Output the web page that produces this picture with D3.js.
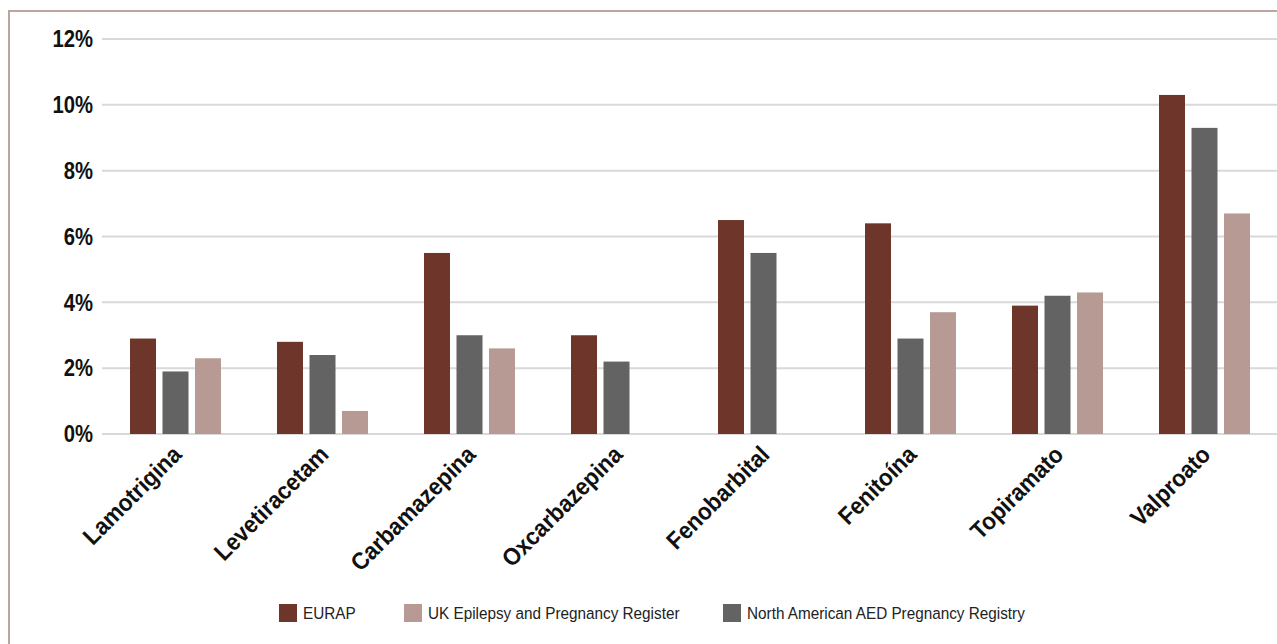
<!DOCTYPE html>
<html>
<head>
<meta charset="utf-8">
<script src="https://cdn.jsdelivr.net/npm/d3@7"></script>
<style>
  body { margin: 0; background: #fff; }
  svg text { font-family: "Liberation Sans Narrow", "Arial Narrow", "Liberation Sans", sans-serif; }
</style>
</head>
<body>
<div id="chart"></div>
<script>
const categories = ["Lamotrigina", "Levetiracetam", "Carbamazepina", "Oxcarbazepina",
    "Fenobarbital", "Fenitoína", "Topiramato", "Valproato"];
const series = ["EURAP", "North American AED Pregnancy Registry", "UK Epilepsy and Pregnancy Register"];
const legendOrder = ["EURAP", "UK Epilepsy and Pregnancy Register", "North American AED Pregnancy Registry"];
const eurap = [2.9, 2.8, 5.5, 3.0, 6.5, 6.4, 3.9, 10.3];
const northAmerican = [1.9, 2.4, 3.0, 2.2, 5.5, 2.9, 4.2, 9.3];
const ukRegister = [2.3, 0.7, 2.6, null, null, 3.7, 4.3, 6.7];
const yTicks = [0, 2, 4, 6, 8, 10, 12];
const colors = {
    "EURAP": "#6e362b",
    "North American AED Pregnancy Registry": "#636363",
    "UK Epilepsy and Pregnancy Register": "#b69a93"
};

const width = 1277, height = 644;
const values = {
    "EURAP": eurap,
    "North American AED Pregnancy Registry": northAmerican,
    "UK Epilepsy and Pregnancy Register": ukRegister
};

const svg = d3.select("#chart")
    .append("svg")
    .attr("width", width)
    .attr("height", height);

// outer frame
svg.append("rect")
    .attr("x", 9).attr("y", 11)
    .attr("width", 1300).attr("height", 700)
    .attr("fill", "none")
    .attr("stroke", "#bca49f")
    .attr("stroke-width", 2);

const x0 = d3.scaleBand().domain(categories).range([101.5, 1277.5]);
const x1 = d3.scaleBand().domain(series).range([28.5, 119.5]).paddingInner(0.2);
const y = d3.scaleLinear().domain([0, 12]).range([434, 39]);

// gridlines
svg.append("g")
    .selectAll("line")
    .data(yTicks)
    .join("line")
    .attr("x1", 102).attr("x2", width)
    .attr("y1", d => y(d)).attr("y2", d => y(d))
    .attr("stroke", "#d9d9d9")
    .attr("stroke-width", 2);

// y labels
svg.append("g")
    .selectAll("text")
    .data(yTicks)
    .join("text")
    .attr("transform", d => "translate(93," + y(d) + ") scale(0.88,1)")
    .attr("dy", "0.36em")
    .attr("text-anchor", "end")
    .attr("font-size", 23)
    .attr("font-weight", "bold")
    .attr("fill", "#111")
    .text(d => d + "%");

// bars
const groups = svg.append("g")
    .selectAll("g")
    .data(categories)
    .join("g")
    .attr("transform", d => "translate(" + x0(d) + ",0)");

groups.selectAll("rect")
    .data((c, i) => series.map(s => ({s: s, v: values[s][i]})).filter(d => d.v != null))
    .join("rect")
    .attr("x", d => x1(d.s))
    .attr("width", x1.bandwidth())
    .attr("y", d => y(d.v))
    .attr("height", d => y(0) - y(d.v))
    .attr("fill", d => colors[d.s]);

// category labels
svg.append("g")
    .selectAll("text")
    .data(categories)
    .join("text")
    .attr("transform", d => "translate(" + (x0(d) + x0.bandwidth() / 2 + 8) + ",456) rotate(-45) scale(0.93,1)")
    .attr("text-anchor", "end")
    .attr("font-size", 24)
    .attr("font-weight", "bold")
    .attr("fill", "#111")
    .text(d => d);

// legend
const legendX = [279, 404, 723];
const legend = svg.append("g")
    .selectAll("g")
    .data(legendOrder)
    .join("g")
    .attr("transform", (d, i) => "translate(" + legendX[i] + ",604)");

legend.append("rect")
    .attr("width", 18).attr("height", 18)
    .attr("fill", d => colors[d]);

legend.append("text")
    .attr("transform", "translate(24,9) scale(0.9,1)")
    .attr("dy", "0.36em")
    .attr("font-size", 17)
    .attr("fill", "#222")
    .text(d => d);
</script>
</body>
</html>
